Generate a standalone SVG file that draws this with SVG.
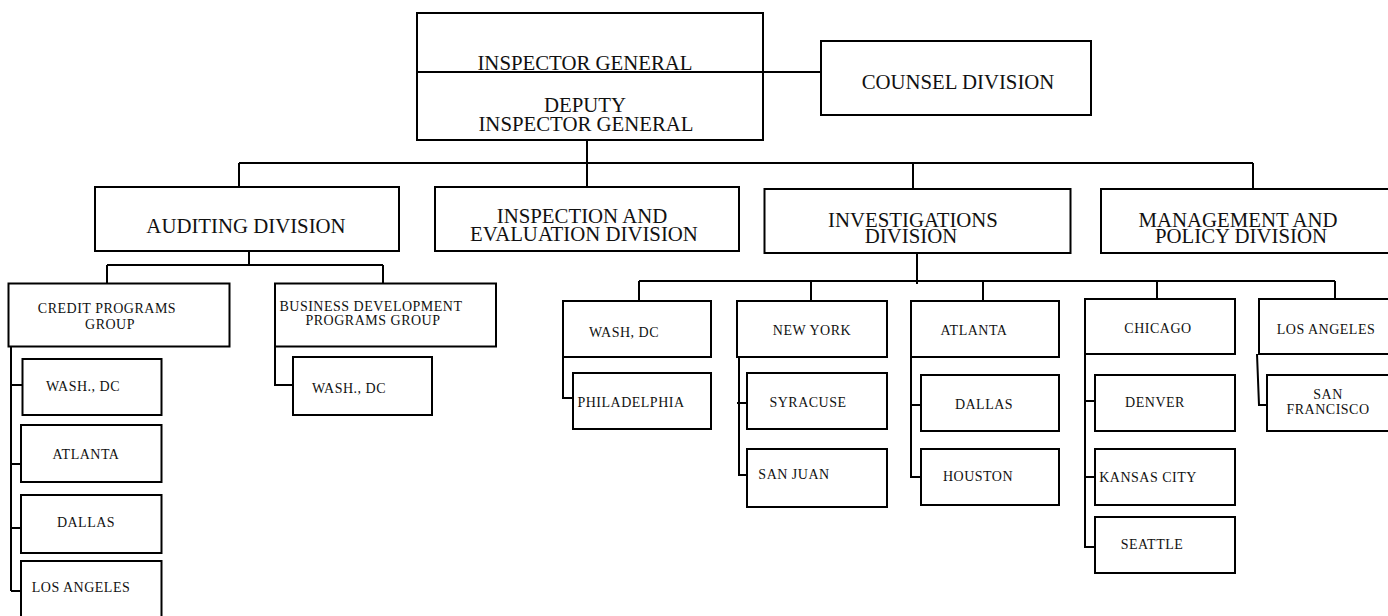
<svg xmlns="http://www.w3.org/2000/svg" width="1388" height="616" viewBox="0 0 1388 616">
<style>
rect.b{fill:#fff;stroke:#000;stroke-width:2}
.c{fill:none;stroke:#000;stroke-width:2}
text{font-family:"Liberation Serif","Times New Roman",serif;fill:#111;text-anchor:middle}
.m{font-size:20.8px}
.s{font-size:14px;letter-spacing:0.5px}
</style>
<rect width="1388" height="616" fill="#fff"/>
<g id="connectors">
<path class="c" d="M763 72H821"/>
<path class="c" d="M587 140V163M239 163H1253M239 163V187M587 163V187M913 163V189M1253 163V189"/>
<path class="c" d="M249 251V265M107 265H383M107 265V283M383 265V283"/>
<path class="c" d="M11 347V591M11 385H22M11 464H21M11 528H21M11 591H21"/>
<path class="c" d="M275 347V385H293"/>
<path class="c" d="M917 253V284M639 281H1335M639 281V301M811 281V301M983 281V301M1157 281V299M1335 281V299"/>
<path class="c" d="M563 357V398H573"/>
<path class="c" d="M739 357V475H747M737 403H747"/>
<path class="c" d="M911 357V477H921M911 405H921"/>
<path class="c" d="M1085 354V547H1095M1085 401H1095M1085 477H1096"/>
<path class="c" d="M1257 354L1259 405H1267" stroke-width="1.5"/>
</g>
<g id="inspector-general">
<rect class="b" x="417" y="13" width="346" height="127"/>
<path class="c" d="M417 72H763"/>
<text class="m" x="585" y="70">INSPECTOR GENERAL</text>
<text class="m" x="585" y="112">DEPUTY</text>
<text class="m" x="586" y="131">INSPECTOR GENERAL</text>
</g>
<g id="counsel">
<rect class="b" x="821" y="41" width="270" height="74"/>
<text class="m" x="958" y="89">COUNSEL DIVISION</text>
</g>
<g id="auditing">
<rect class="b" x="95" y="187" width="304" height="64"/>
<text class="m" x="246" y="233">AUDITING DIVISION</text>
</g>
<g id="inspection">
<rect class="b" x="435" y="187" width="304" height="64"/>
<text class="m" x="582" y="223">INSPECTION AND</text>
<text class="m" x="584" y="241">EVALUATION DIVISION</text>
</g>
<g id="investigations">
<rect class="b" x="764.5" y="189" width="306" height="64"/>
<text class="m" x="913" y="227">INVESTIGATIONS</text>
<text class="m" x="911" y="243">DIVISION</text>
</g>
<g id="management">
<rect class="b" x="1101" y="189" width="290" height="64"/>
<text class="m" x="1238" y="227">MANAGEMENT AND</text>
<text class="m" x="1241" y="243">POLICY DIVISION</text>
</g>
<g id="credit">
<rect class="b" x="8.5" y="283.5" width="221" height="63"/>
<text class="s" x="107" y="313">CREDIT PROGRAMS</text>
<text class="s" x="110" y="329">GROUP</text>
</g>
<g id="busdev">
<rect class="b" x="275" y="283.5" width="221" height="63"/>
<text class="s" x="371" y="311">BUSINESS DEVELOPMENT</text>
<text class="s" x="373" y="325">PROGRAMS GROUP</text>
</g>
<g id="credit-wash">
<rect class="b" x="22.5" y="359" width="139" height="56"/>
<text class="s" x="83" y="391">WASH., DC</text>
</g>
<g id="credit-atlanta">
<rect class="b" x="21" y="425" width="140.5" height="57"/>
<text class="s" x="86" y="459">ATLANTA</text>
</g>
<g id="credit-dallas">
<rect class="b" x="21" y="495" width="140.5" height="58"/>
<text class="s" x="86" y="527">DALLAS</text>
</g>
<g id="credit-la">
<rect class="b" x="21" y="561" width="140.5" height="60"/>
<text class="s" x="81" y="592">LOS ANGELES</text>
</g>
<g id="busdev-wash">
<rect class="b" x="293" y="357" width="139" height="58"/>
<text class="s" x="349" y="393">WASH., DC</text>
</g>
<g id="inv-wash">
<rect class="b" x="563" y="301" width="148" height="56"/>
<text class="s" x="624" y="337">WASH, DC</text>
</g>
<g id="philadelphia">
<rect class="b" x="573" y="373" width="138" height="56"/>
<text class="s" x="631" y="407">PHILADELPHIA</text>
</g>
<g id="new-york">
<rect class="b" x="737" y="301" width="150" height="56"/>
<text class="s" x="812" y="335">NEW YORK</text>
</g>
<g id="syracuse">
<rect class="b" x="747" y="373" width="140" height="56"/>
<text class="s" x="808" y="407">SYRACUSE</text>
</g>
<g id="san-juan">
<rect class="b" x="747" y="449" width="140" height="58"/>
<text class="s" x="794" y="479">SAN JUAN</text>
</g>
<g id="inv-atlanta">
<rect class="b" x="911" y="301" width="148" height="56"/>
<text class="s" x="974" y="335">ATLANTA</text>
</g>
<g id="inv-dallas">
<rect class="b" x="921" y="375" width="138" height="56"/>
<text class="s" x="984" y="409">DALLAS</text>
</g>
<g id="houston">
<rect class="b" x="921" y="449" width="138" height="56"/>
<text class="s" x="978" y="481">HOUSTON</text>
</g>
<g id="chicago">
<rect class="b" x="1085" y="299" width="150" height="55"/>
<text class="s" x="1158" y="333">CHICAGO</text>
</g>
<g id="denver">
<rect class="b" x="1095" y="375" width="140" height="56"/>
<text class="s" x="1155" y="407">DENVER</text>
</g>
<g id="kansas-city">
<rect class="b" x="1095" y="449" width="140" height="56"/>
<text class="s" x="1148" y="482">KANSAS CITY</text>
</g>
<g id="seattle">
<rect class="b" x="1095" y="517" width="140" height="56"/>
<text class="s" x="1152" y="549">SEATTLE</text>
</g>
<g id="inv-la">
<rect class="b" x="1259" y="299" width="135" height="55"/>
<text class="s" x="1326" y="334">LOS ANGELES</text>
</g>
<g id="san-francisco">
<rect class="b" x="1267" y="375" width="127" height="56"/>
<text class="s" x="1328" y="399">SAN</text>
<text class="s" x="1328" y="414">FRANCISCO</text>
</g>
</svg>
